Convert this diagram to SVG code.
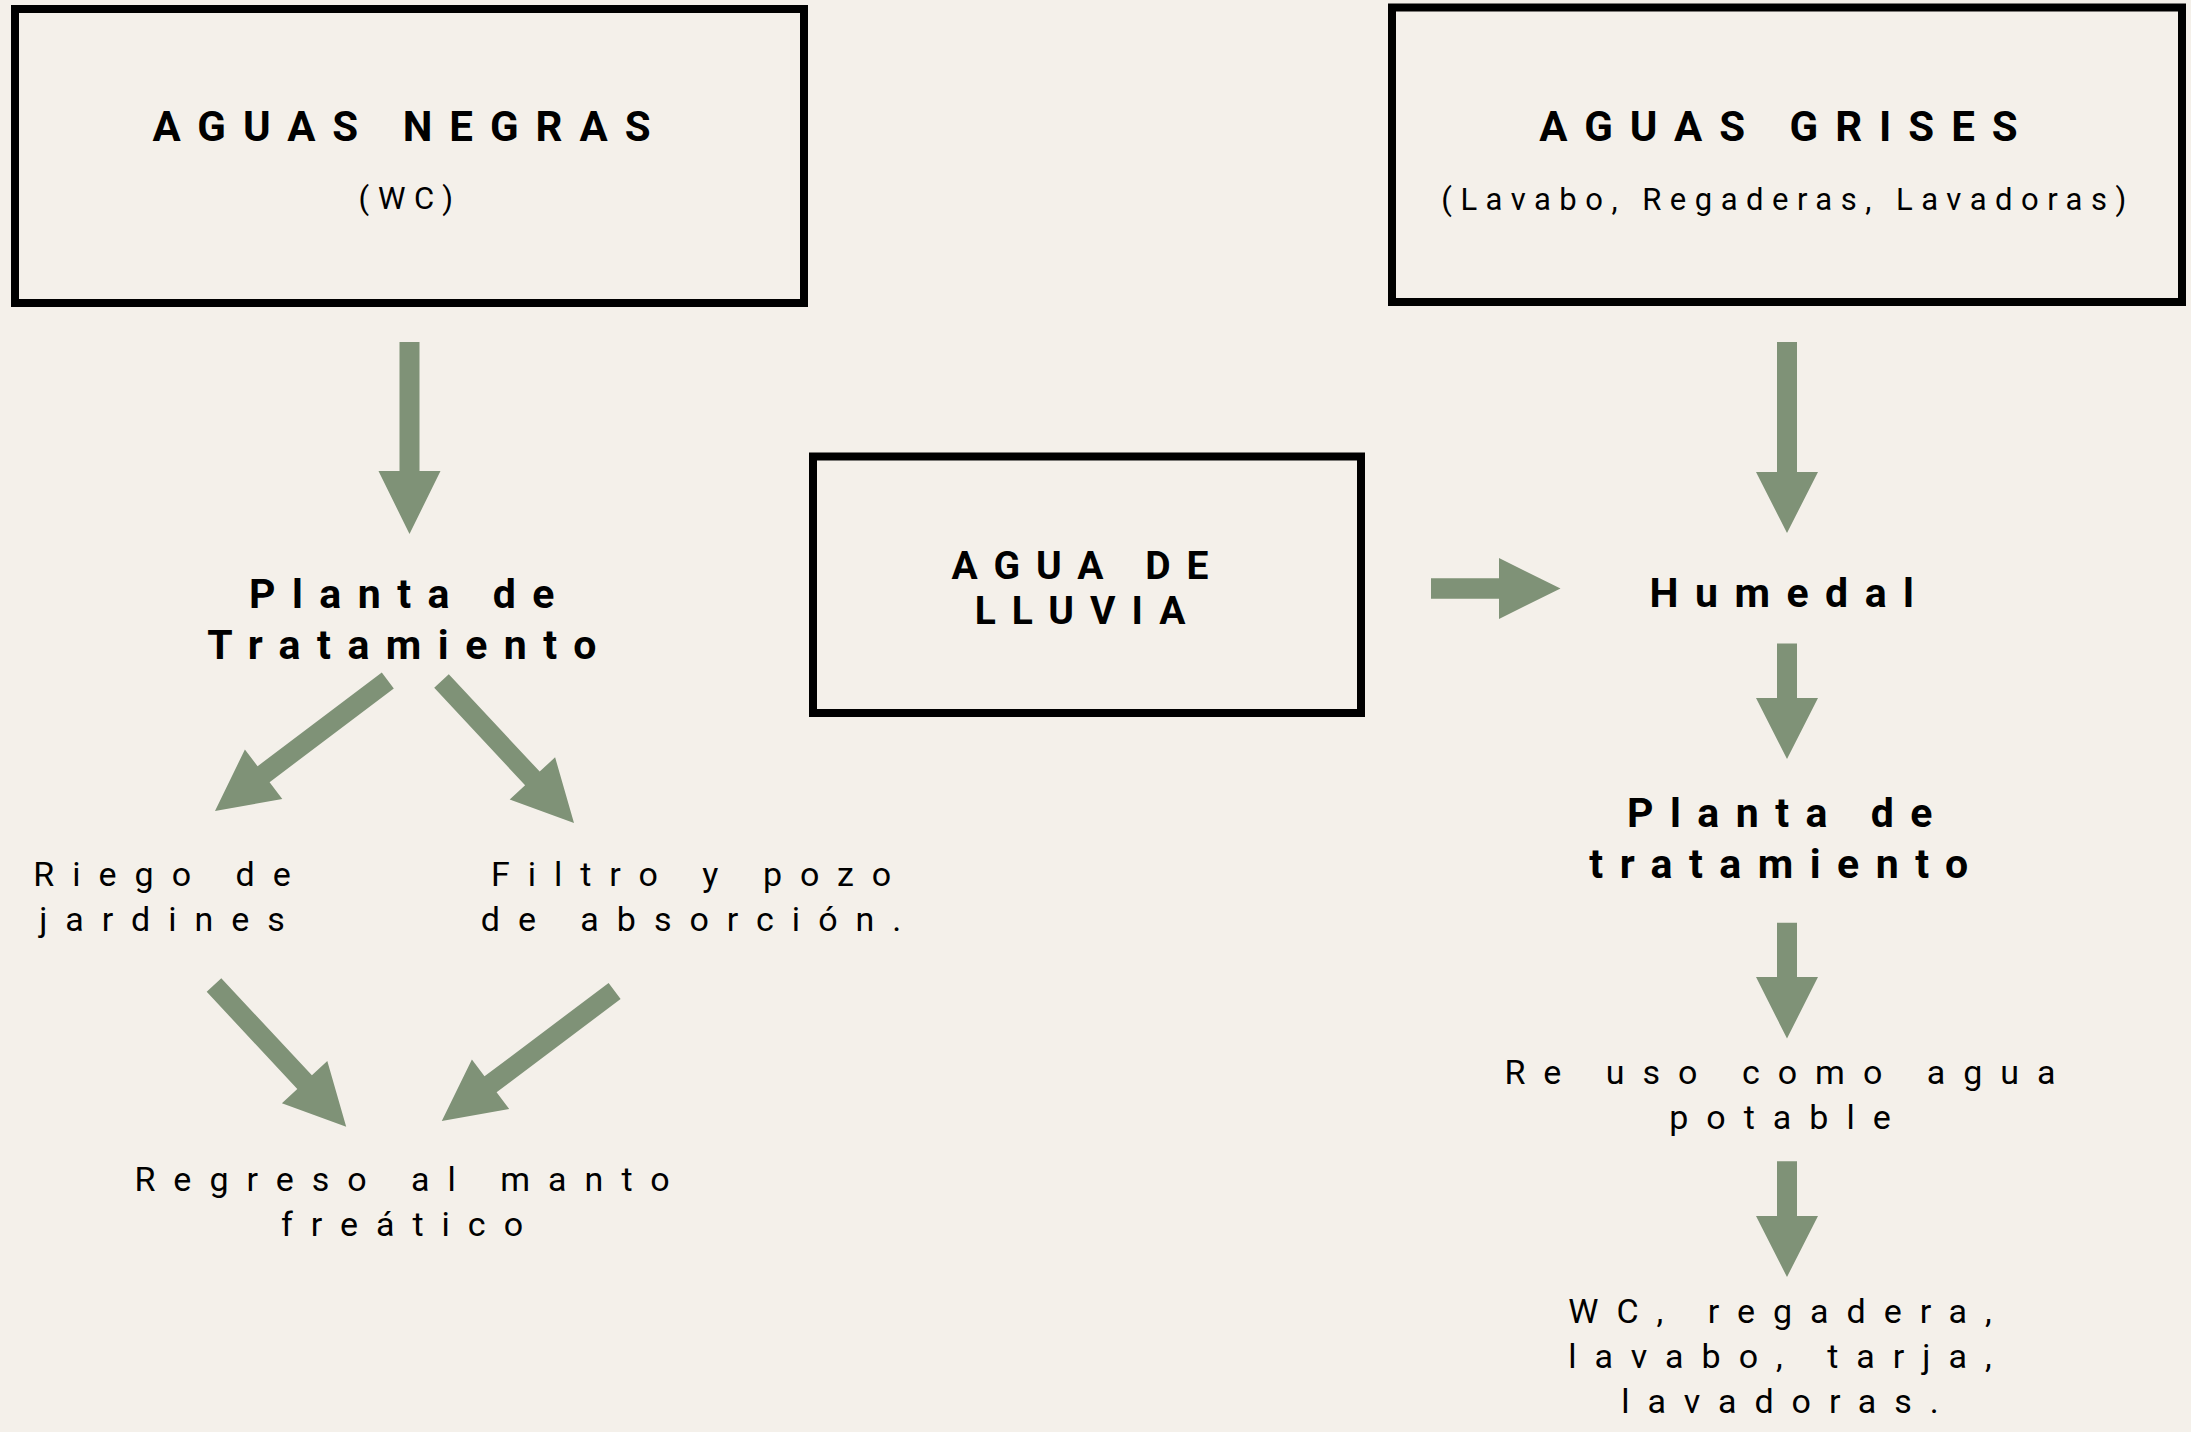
<svg xmlns="http://www.w3.org/2000/svg" width="2191" height="1432" viewBox="0 0 2191 1432">
<style>
.box{fill:none;stroke:#000;stroke-width:8}
.arr{fill:#7f9277}
text{font-family:Roboto,"Liberation Sans",sans-serif;fill:#000;text-anchor:middle}
.h{font-weight:700;font-size:42px;letter-spacing:17px}
.s{font-weight:400;font-size:31px;letter-spacing:8.5px}
.b{font-weight:700;font-size:41px;letter-spacing:16.5px}
.r{font-weight:400;font-size:34px;letter-spacing:18px}
</style>
<rect width="2191" height="1432" fill="#f4f0ea"/>
<g id="aguas-negras">
<rect class="box" x="15" y="9" width="789" height="294"/>
<text class="h" x="410" y="141">AGUAS NEGRAS</text>
<text class="s" x="410" y="209">(WC)</text>
</g>
<g id="aguas-grises">
<rect class="box" x="1392" y="7.5" width="790" height="294.5"/>
<text class="h" x="1787" y="141">AGUAS GRISES</text>
<text class="s" x="1788" y="210">(Lavabo, Regaderas, Lavadoras)</text>
</g>
<g id="agua-lluvia">
<rect class="box" x="813" y="456.5" width="548" height="256.5"/>
<text class="h" style="font-size:39px;letter-spacing:16px" x="1088" y="579">AGUA DE</text>
<text class="h" style="font-size:39px;letter-spacing:16px" x="1088" y="624">LLUVIA</text>
</g>
<g id="planta-tratamiento-1">
<text class="b" x="410" y="607.5">Planta de</text>
<text class="b" x="410" y="659">Tratamiento</text>
</g>
<g id="riego">
<text class="r" x="171" y="886">Riego de</text>
<text class="r" x="171" y="931">jardines</text>
</g>
<g id="filtro">
<text class="r" x="700" y="886">Filtro y pozo</text>
<text class="r" x="700" y="931">de absorción.</text>
</g>
<g id="regreso">
<text class="r" x="411" y="1191">Regreso al manto</text>
<text class="r" x="411" y="1236">freático</text>
</g>
<g id="humedal">
<text class="b" x="1790" y="607">Humedal</text>
</g>
<g id="planta-tratamiento-2">
<text class="b" x="1788" y="827">Planta de</text>
<text class="b" x="1787" y="878">tratamiento</text>
</g>
<g id="reuso">
<text class="r" x="1789" y="1084">Re uso como agua</text>
<text class="r" x="1789" y="1128.5">potable</text>
</g>
<g id="usos">
<text class="r" x="1789" y="1322.5">WC, regadera,</text>
<text class="r" x="1789" y="1367.5">lavabo, tarja,</text>
<text class="r" x="1789" y="1412.5">lavadoras.</text>
</g>
<g id="connectors" class="arr">
<polygon points="399.5,342 419.5,342 419.5,471 440.5,471 409.5,534 378.5,471 399.5,471"/>
<polygon points="1777,342 1797,342 1797,472 1818,472 1787,533 1756,472 1777,472"/>
<polygon points="1777,643.5 1797,643.5 1797,698 1818,698 1787,759 1756,698 1777,698"/>
<polygon points="1777,922.7 1797,922.7 1797,977 1818,977 1787,1038.5 1756,977 1777,977"/>
<polygon points="1777,1161.3 1797,1161.3 1797,1216 1818,1216 1787,1277 1756,1216 1777,1216"/>
<polygon points="1431,578.3 1499,578.3 1499,558 1560.5,588.5 1499,619 1499,598.7 1431,598.7"/>
<polygon points="381.8,672.4 257.6,766.2 244.9,749.5 215,811 282.3,798.9 269.6,782.2 393.8,688.4"/>
<polygon points="434.2,687.8 525.1,785.2 509.7,799.6 574,823 555.1,757.3 539.7,771.6 448.8,674.2"/>
<polygon points="206.7,991.8 297.3,1088.9 281.9,1103.2 346.2,1126.7 327.3,1061 311.9,1075.3 221.3,978.2"/>
<polygon points="608.6,983 484.5,1076.3 471.9,1059.5 441.8,1121 509.2,1109.1 496.6,1092.3 620.6,999"/>
</g>
</svg>
